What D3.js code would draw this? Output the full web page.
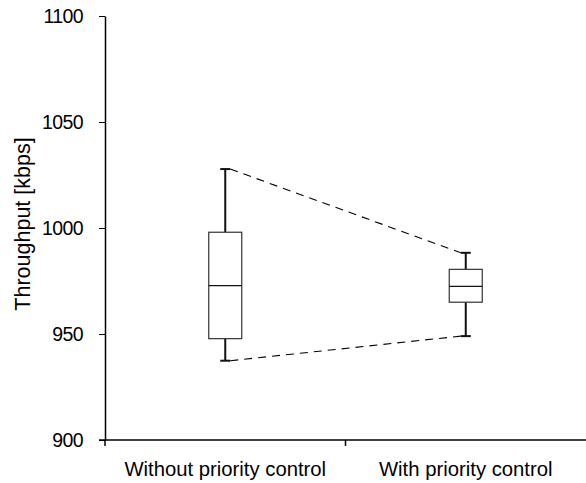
<!DOCTYPE html>
<html>
<head>
<meta charset="utf-8">
<script src="https://cdn.jsdelivr.net/npm/d3@7"></script>
<style>
  body { margin: 0; background: #fff; }
  text { font-family: "Liberation Sans", Arial, sans-serif; }
</style>
</head>
<body>
<div id="chart"></div>
<script>
var categories = ["Without priority control", "With priority control"];
var whiskerLow = [937.4, 949];
var q1 = [947.8, 965];
var median = [972.8, 972.5];
var q3 = [998, 980.5];
var whiskerHigh = [1027.8, 988.3];
var yTicks = [900, 950, 1000, 1050, 1100];

var W = 586, H = 483;
var margin = { top: 16, right: 0, bottom: 43, left: 105 },
  width = W - margin.left - margin.right,
  height = H - margin.top - margin.bottom;

var svg = d3.select("#chart")
  .append("svg")
  .attr("width", W)
  .attr("height", H)
  .append("g")
  .attr("transform", "translate(" + margin.left + "," + margin.top + ")");

var x = d3.scaleBand()
  .domain(categories)
  .range([0, width]);

var y = d3.scaleLinear()
  .domain([900, 1100])
  .range([height, 0]);

var data = categories.map(function (c, i) {
  return { name: c, lo: whiskerLow[i], q1: q1[i], med: median[i], q3: q3[i], hi: whiskerHigh[i] };
});

var boxW = 33, capW = 10;
function cx(d) { return x(d.name) + x.bandwidth() / 2; }

// dashed lines joining whisker ends
var a = data[0], b = data[1];
["hi", "lo"].forEach(function (k) {
  svg.append("line")
    .attr("x1", cx(a) + capW / 2).attr("y1", y(a[k]))
    .attr("x2", cx(b) - capW / 2).attr("y2", y(b[k]))
    .attr("stroke", "#000")
    .attr("stroke-width", 1.1)
    .attr("stroke-dasharray", "8,6");
});

var g = svg.selectAll(".box")
  .data(data)
  .enter()
  .append("g")
  .attr("class", "box");

// whiskers
g.append("line")
  .attr("x1", cx).attr("x2", cx)
  .attr("y1", function (d) { return y(d.q3); })
  .attr("y2", function (d) { return y(d.hi); })
  .attr("stroke", "#111").attr("stroke-width", 2);
g.append("line")
  .attr("x1", cx).attr("x2", cx)
  .attr("y1", function (d) { return y(d.q1); })
  .attr("y2", function (d) { return y(d.lo); })
  .attr("stroke", "#111").attr("stroke-width", 2);

// caps
["hi", "lo"].forEach(function (k) {
  g.append("line")
    .attr("x1", function (d) { return cx(d) - capW / 2; })
    .attr("x2", function (d) { return cx(d) + capW / 2; })
    .attr("y1", function (d) { return y(d[k]); })
    .attr("y2", function (d) { return y(d[k]); })
    .attr("stroke", "#111").attr("stroke-width", 2);
});

// boxes
g.append("rect")
  .attr("x", function (d) { return cx(d) - boxW / 2; })
  .attr("width", boxW)
  .attr("y", function (d) { return y(d.q3); })
  .attr("height", function (d) { return y(d.q1) - y(d.q3); })
  .attr("fill", "#fff")
  .attr("stroke", "#333")
  .attr("stroke-width", 1.2);

// medians
g.append("line")
  .attr("x1", function (d) { return cx(d) - boxW / 2; })
  .attr("x2", function (d) { return cx(d) + boxW / 2; })
  .attr("y1", function (d) { return y(d.med); })
  .attr("y2", function (d) { return y(d.med); })
  .attr("stroke", "#111").attr("stroke-width", 1.3);

// axes
var yAxis = svg.append("g")
  .call(d3.axisLeft(y).tickValues(yTicks).tickFormat(d3.format("d"))
    .tickSize(6).tickSizeOuter(0).tickPadding(16));
yAxis.select(".domain").attr("stroke-width", 1.5);
yAxis.selectAll("text").attr("font-size", 19.5).attr("fill", "#000")
  .attr("letter-spacing", -0.6);

var xAxis = svg.append("g")
  .attr("transform", "translate(0," + height + ")")
  .call(d3.axisBottom(x).tickSize(0).tickPadding(0));
xAxis.select(".domain").attr("d", "M-6,0H" + width).attr("stroke-width", 1.5);
xAxis.selectAll(".tick line").remove();
xAxis.selectAll(".tick text")
  .attr("font-size", 20.3).attr("fill", "#000")
  .attr("dy", 0).attr("y", 36);

// x ticks at band boundaries
svg.selectAll(".xt")
  .data([0, x.bandwidth()])
  .enter()
  .append("line")
  .attr("x1", function (d) { return d; }).attr("x2", function (d) { return d; })
  .attr("y1", height).attr("y2", height + 6)
  .attr("stroke", "#000").attr("stroke-width", 1.5);

svg.append("text")
  .attr("transform", "rotate(-90)")
  .attr("x", -height / 2 + 4)
  .attr("y", -75)
  .attr("text-anchor", "middle")
  .attr("font-size", 21.5)
  .text("Throughput [kbps]");
</script>
</body>
</html>
